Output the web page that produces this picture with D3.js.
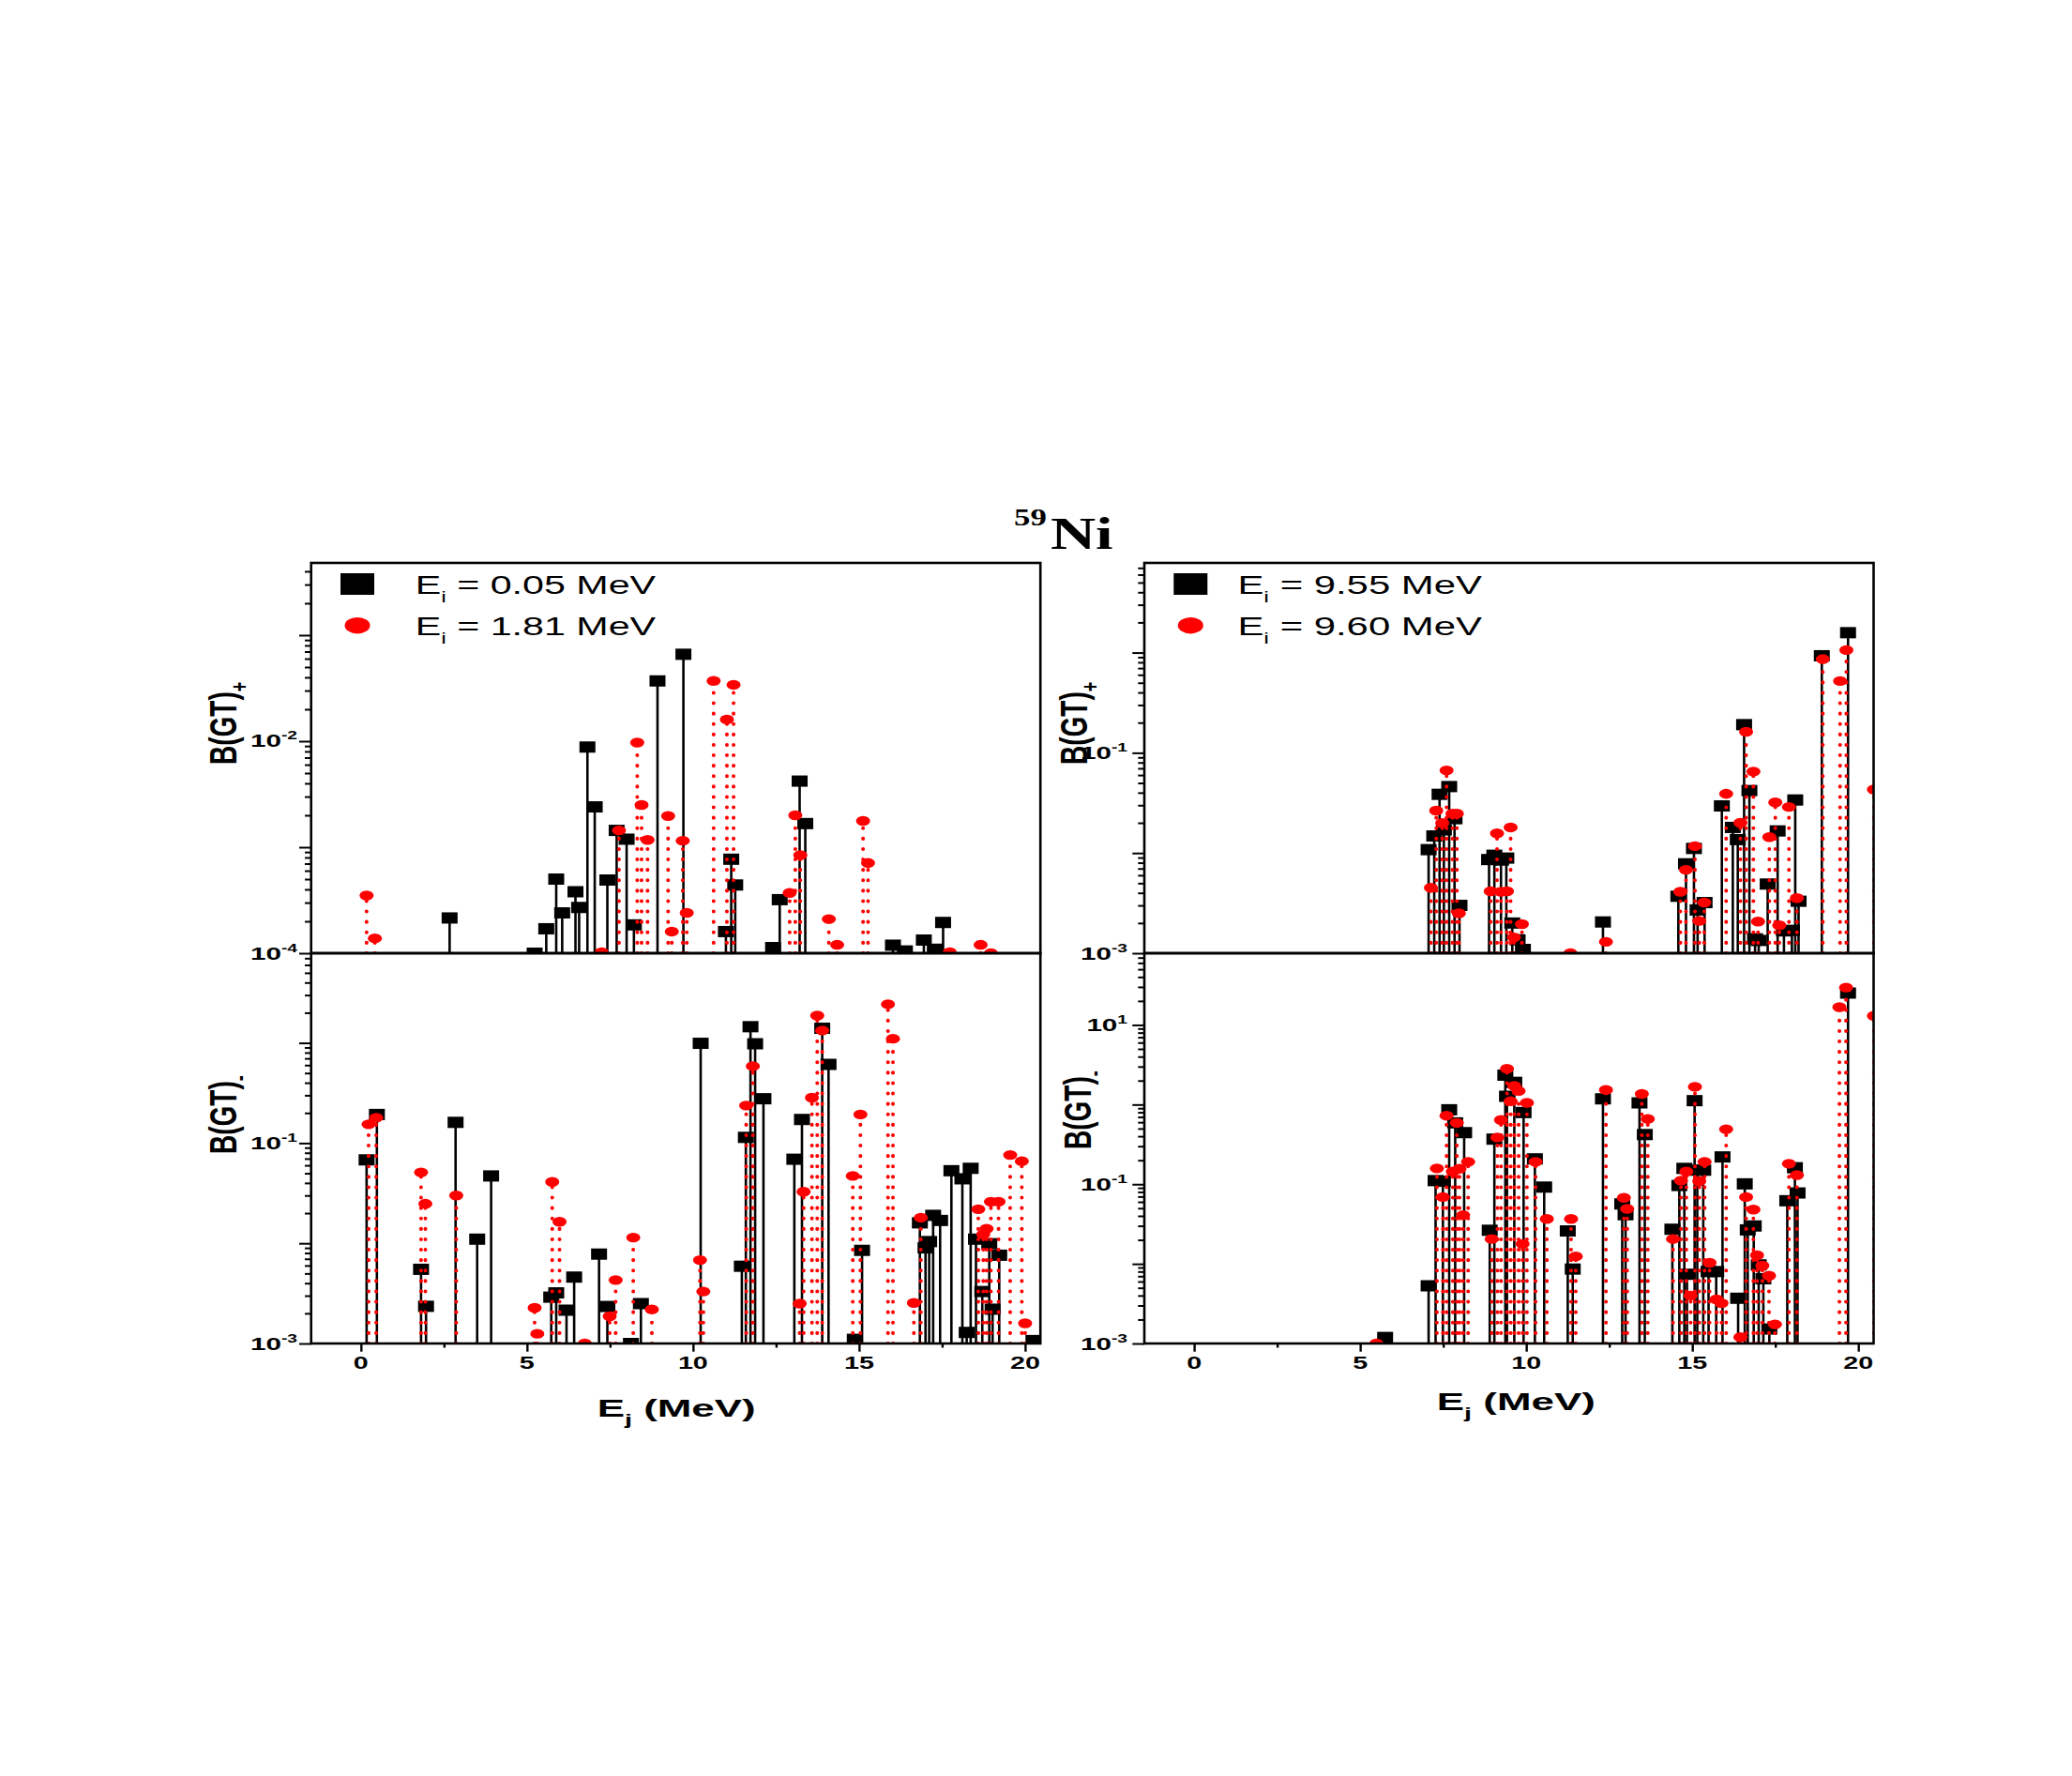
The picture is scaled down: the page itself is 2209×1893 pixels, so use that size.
<!DOCTYPE html>
<html>
<head>
<meta charset="utf-8">
<script src="https://cdn.jsdelivr.net/npm/d3@7"></script>
<style>
  body { margin: 0; background: #fff; }
  svg { display: block; }
</style>
</head>
<body>
<div id="chart"></div>
<script>
// ---- data ----
// B(GT)+ , Ei = 0.05 MeV
const lowPlusSqE = [2.67, 5.23, 5.58, 5.88, 6.06, 6.46, 6.57, 6.82, 7.04, 7.42, 7.70, 8.00, 8.22, 8.93, 9.71, 10.99, 11.15, 11.27, 12.41, 12.61, 13.21, 13.38, 16.02, 16.38, 16.95, 17.28, 17.53];
const lowPlusSqB = [2.15e-4, 1.0e-4, 1.7e-4, 5.0e-4, 2.4e-4, 3.8e-4, 2.7e-4, 8.8e-3, 2.4e-3, 4.9e-4, 1.44e-3, 1.19e-3, 1.85e-4, 3.7e-2, 6.6e-2, 1.6e-4, 7.7e-4, 4.4e-4, 1.13e-4, 3.2e-4, 4.2e-3, 1.67e-3, 1.19e-4, 1.05e-4, 1.33e-4, 1.09e-4, 1.95e-4];
// B(GT)+ , Ei = 1.81 MeV
const lowPlusCiE = [0.17, 0.42, 7.25, 7.77, 8.32, 8.45, 8.63, 9.25, 9.36, 9.69, 9.81, 10.62, 11.02, 11.22, 12.91, 13.08, 13.23, 14.09, 14.34, 15.12, 15.27, 17.73, 18.66, 18.97];
const lowPlusCiB = [3.5e-4, 1.38e-4, 1.02e-4, 1.44e-3, 9.7e-3, 2.5e-3, 1.17e-3, 1.97e-3, 1.6e-4, 1.15e-3, 2.4e-4, 3.7e-2, 1.6e-2, 3.4e-2, 3.7e-4, 2.0e-3, 8.4e-4, 2.1e-4, 1.2e-4, 1.77e-3, 7.1e-4, 1.02e-4, 1.2e-4, 1.0e-4];
// B(GT)- , Ei = 0.05 MeV
const lowMinusSqE = [0.17, 0.48, 1.81, 1.96, 2.85, 3.50, 3.92, 5.73, 5.88, 6.19, 6.42, 7.17, 7.42, 8.13, 8.43, 10.23, 11.47, 11.59, 11.73, 11.87, 12.12, 13.05, 13.28, 13.89, 14.08, 14.87, 15.09, 16.83, 17.00, 17.11, 17.23, 17.44, 17.78, 18.11, 18.24, 18.36, 18.52, 18.71, 18.92, 19.02, 19.22, 20.25];
const lowMinusSqB = [0.068, 0.193, 5.5e-3, 2.35e-3, 0.161, 0.011, 0.047, 2.9e-3, 3.2e-3, 2.15e-3, 4.6e-3, 7.8e-3, 2.34e-3, 1.0e-3, 2.5e-3, 0.99, 5.9e-3, 0.114, 1.45, 0.98, 0.277, 0.069, 0.172, 1.4, 0.61, 1.1e-3, 8.5e-3, 0.016, 9.0e-3, 0.0104, 0.019, 0.0169, 0.053, 0.044, 1.29e-3, 0.056, 0.011, 3.3e-3, 9.9e-3, 2.2e-3, 7.6e-3, 1.07e-3];
// B(GT)- , Ei = 1.81 MeV
const lowMinusCiE = [0.23, 0.46, 1.81, 1.94, 2.87, 5.23, 5.31, 5.76, 5.98, 6.74, 7.49, 7.67, 8.20, 8.76, 10.21, 10.31, 11.60, 11.80, 13.21, 13.33, 13.58, 13.74, 13.89, 14.81, 15.04, 15.87, 16.02, 16.65, 16.86, 18.59, 18.74, 18.84, 18.97, 19.20, 19.55, 19.90, 20.0];
const lowMinusCiB = [0.154, 0.179, 0.051, 0.0248, 0.030, 2.27e-3, 1.25e-3, 0.041, 0.0164, 1.0e-3, 1.87e-3, 4.3e-3, 0.0114, 2.19e-3, 6.8e-3, 3.3e-3, 0.237, 0.585, 2.5e-3, 0.0327, 0.284, 1.87, 1.33, 0.047, 0.193, 2.43, 1.10, 2.54e-3, 0.018, 0.0219, 0.0123, 0.014, 0.026, 0.026, 0.076, 0.066, 1.59e-3];
// B(GT)+ , Ei = 9.55 MeV
const highPlusSqE = [7.06, 7.23, 7.39, 7.52, 7.68, 7.84, 7.99, 8.88, 9.04, 9.24, 9.40, 9.58, 9.74, 9.90, 12.31, 14.58, 14.81, 15.05, 15.16, 15.37, 15.89, 16.22, 16.37, 16.56, 16.72, 16.89, 17.00, 17.27, 17.57, 17.76, 18.00, 18.10, 18.20, 18.90, 19.69];
const highPlusSqB = [0.0108, 0.0148, 0.0385, 0.017, 0.046, 0.022, 3.0e-3, 8.6e-3, 9.5e-3, 8.5e-3, 8.9e-3, 2.0e-3, 1.36e-3, 1.09e-3, 2.05e-3, 3.7e-3, 7.8e-3, 0.0111, 2.7e-3, 3.2e-3, 0.0295, 0.018, 0.0136, 0.191, 0.042, 1.39e-3, 1.34e-3, 4.9e-3, 0.0166, 1.67e-3, 1.69e-3, 0.0338, 3.3e-3, 0.93, 1.58];
// B(GT)+ , Ei = 9.60 MeV
const highPlusCiE = [7.13, 7.29, 7.47, 7.60, 7.78, 7.91, 7.97, 8.93, 9.12, 9.24, 9.42, 9.53, 9.63, 9.87, 11.33, 12.40, 14.64, 14.81, 15.08, 15.21, 15.36, 16.02, 16.45, 16.62, 16.84, 16.98, 17.32, 17.50, 17.62, 17.91, 18.15, 18.93, 19.45, 19.64, 20.47];
const highPlusCiB = [4.5e-3, 0.0265, 0.0199, 0.0668, 0.0247, 0.0247, 2.5e-3, 4.15e-3, 0.0157, 4.1e-3, 4.15e-3, 0.018, 1.44e-3, 1.95e-3, 1.0e-3, 1.3e-3, 4.1e-3, 6.8e-3, 0.0117, 2.1e-3, 3.2e-3, 0.039, 0.020, 0.162, 0.065, 2.07e-3, 0.0144, 0.032, 1.9e-3, 0.0288, 3.55e-3, 0.86, 0.52, 1.06, 0.043];
// B(GT)- , Ei = 9.55 MeV
const highMinusSqE = [5.75, 7.06, 7.27, 7.49, 7.68, 7.86, 8.13, 8.90, 9.04, 9.37, 9.42, 9.64, 9.92, 10.26, 10.54, 11.25, 11.40, 12.31, 12.89, 12.99, 13.41, 13.57, 14.40, 14.61, 14.76, 14.84, 15.07, 15.15, 15.33, 15.49, 15.72, 15.91, 16.38, 16.58, 16.67, 16.85, 17.00, 17.14, 17.32, 17.86, 18.09, 18.17, 19.69];
const highMinusSqB = [1.19e-3, 5.3e-3, 0.111, 0.109, 0.86, 0.589, 0.444, 0.0264, 0.368, 2.34, 1.27, 1.9, 0.794, 0.208, 0.092, 0.0259, 8.6e-3, 1.18, 0.0565, 0.0414, 1.05, 0.42, 0.0272, 0.0964, 0.158, 7.4e-3, 1.12, 0.15, 0.15, 8.0e-3, 8.0e-3, 0.22, 3.7e-3, 0.101, 0.0267, 0.0299, 9.7e-3, 6.5e-3, 1.52e-3, 0.062, 0.161, 0.0776, 25.1];
// B(GT)- , Ei = 9.60 MeV
const highMinusCiE = [5.49, 7.31, 7.49, 7.60, 7.79, 7.91, 7.99, 8.10, 8.25, 8.96, 9.13, 9.24, 9.42, 9.53, 9.64, 9.77, 9.89, 10.02, 10.28, 10.62, 11.35, 11.49, 12.40, 12.94, 13.04, 13.48, 13.66, 14.42, 14.66, 14.82, 14.95, 15.08, 15.21, 15.37, 15.52, 15.73, 15.88, 16.02, 16.45, 16.62, 16.84, 16.95, 17.11, 17.31, 17.49, 17.91, 18.15, 19.43, 19.63, 20.47];
const highMinusCiB = [1.0e-3, 0.158, 0.069, 0.725, 0.144, 0.589, 0.156, 0.041, 0.191, 0.0205, 0.386, 0.64, 2.82, 1.1, 1.71, 1.48, 0.0178, 1.05, 0.191, 0.0366, 0.0366, 0.0124, 1.53, 0.0675, 0.049, 1.36, 0.66, 0.0205, 0.111, 0.144, 4.0e-3, 1.67, 0.109, 0.191, 0.0103, 3.58e-3, 3.2e-3, 0.49, 1.2e-3, 0.069, 0.048, 0.0128, 9.5e-3, 7.1e-3, 1.74e-3, 0.181, 0.13, 16.7, 29.4, 13.0];

// legends and ticks
const legendLow = ['0.05', '1.81'];
const legendHigh = ['9.55', '9.60'];
const xMajorTicks = [0, 5, 10, 15, 20];
const xMinorTicks = [2.5, 7.5, 12.5, 17.5];

const SANS = "'Liberation Sans', Arial, sans-serif";
const SERIF = "'Liberation Serif', 'Times New Roman', serif";
const RED = '#ff0000';

const svg = d3.select('#chart').append('svg')
    .attr('width', 2209).attr('height', 1893);
svg.append('rect').attr('width', 2209).attr('height', 1893).attr('fill', '#fff');

const X_DOMAIN = [-1.5, 20.46];
const PW = 777.5, PH = 416;

// stretch a text horizontally so it fills a given width
function fitText(t, x, y, width) {
    const w = t.node().getBBox().width;
    t.attr('transform', `translate(${x},${y}) scale(${width / w},1)`);
}

function logTicks(domain) {
    const major = [], minor = [];
    const k0 = Math.floor(Math.log10(domain[0])), k1 = Math.ceil(Math.log10(domain[1]));
    for (let k = k0; k <= k1; k++) {
        for (let m = 1; m <= 9; m++) {
            const v = m * Math.pow(10, k);
            if (v < domain[0] * 0.999 || v > domain[1]) continue;
            (m === 1 ? major : minor).push(v);
        }
    }
    return { major, minor };
}

const panels = [
    { id: 'tl', x: 331.7, y: 600, yDomain: [1e-4, 0.48], yLabels: [-4, -2], sign: '+',
      sq: [lowPlusSqE, lowPlusSqB], ci: [lowPlusCiE, lowPlusCiB],
      legend: legendLow, legX: 111, legW: 257, labX: -79.7, labY: 215, tickEnd: -14.7, xAxis: false },
    { id: 'bl', x: 331.7, y: 1016, yDomain: [1e-3, 7.85], yLabels: [-3, -1], sign: '-',
      sq: [lowMinusSqE, lowMinusSqB], ci: [lowMinusCiE, lowMinusCiB],
      legend: null, labX: -79.7, labY: 214, tickEnd: -14.7, xAxis: true, xLabX: 305, xLabY: 494 },
    { id: 'tr', x: 1220, y: 600, yDomain: [1e-3, 7.85], yLabels: [-3, -1], sign: '+',
      sq: [highPlusSqE, highPlusSqB], ci: [highPlusCiE, highPlusCiB],
      legend: legendHigh, legX: 99.4, legW: 261, labX: -61, labY: 215, tickEnd: -18, xAxis: false },
    { id: 'br', x: 1220, y: 1016, yDomain: [1e-3, 79.5], yLabels: [-3, -1, 1], sign: '-',
      sq: [highMinusSqE, highMinusSqB], ci: [highMinusCiE, highMinusCiB],
      legend: null, labX: -57, labY: 209, tickEnd: -18, xAxis: true, xLabX: 311.8, xLabY: 487 }
];

function drawPanel(p) {
    const g = svg.append('g').attr('transform', `translate(${p.x},${p.y})`);
    const x = d3.scaleLinear().domain(X_DOMAIN).range([0, PW]);
    const y = d3.scaleLog().domain(p.yDomain).range([PH, 0]);

    const clipId = 'clip-' + p.id;
    g.append('clipPath').attr('id', clipId)
        .append('rect').attr('width', PW).attr('height', PH);
    const plot = g.append('g').attr('clip-path', `url(#${clipId})`);

    // black drop lines + squares
    const sq = d3.zip(p.sq[0], p.sq[1]);
    plot.append('g').selectAll('line').data(sq).join('line')
        .attr('x1', d => x(d[0])).attr('x2', d => x(d[0]))
        .attr('y1', PH).attr('y2', d => y(d[1]))
        .attr('stroke', '#000').attr('stroke-width', 2.6);
    plot.append('g').selectAll('rect').data(sq).join('rect')
        .attr('x', d => x(d[0]) - 8.5).attr('y', d => y(d[1]) - 6)
        .attr('width', 17).attr('height', 12).attr('fill', '#000');

    // red dotted drop lines + ellipses
    const ci = d3.zip(p.ci[0], p.ci[1]);
    plot.append('g').selectAll('line').data(ci).join('line')
        .attr('x1', d => x(d[0])).attr('x2', d => x(d[0]))
        .attr('y1', PH).attr('y2', d => y(d[1]))
        .attr('stroke', RED).attr('stroke-width', 4)
        .attr('stroke-linecap', 'round').attr('stroke-dasharray', '0.1 11');
    plot.append('g').selectAll('ellipse').data(ci).join('ellipse')
        .attr('cx', d => x(d[0])).attr('cy', d => y(d[1]))
        .attr('rx', 7.5).attr('ry', 5.2).attr('fill', RED);

    // frame
    g.append('rect').attr('width', PW).attr('height', PH)
        .attr('fill', 'none').attr('stroke', '#000').attr('stroke-width', 2.6);

    // y ticks (outside)
    const t = logTicks(p.yDomain);
    const yMaj = g.append('g').call(d3.axisLeft(y).tickValues(t.major).tickSize(12.7).tickFormat(''));
    const yMin = g.append('g').call(d3.axisLeft(y).tickValues(t.minor).tickSize(6.7).tickFormat(''));
    [yMaj, yMin].forEach(a => {
        a.select('.domain').remove();
        a.selectAll('line').attr('stroke-width', 2);
    });

    // y tick labels 10^n
    p.yLabels.forEach(e => {
        const lab = g.append('text')
            .attr('transform', `translate(${p.tickEnd},${y(Math.pow(10, e)) + 6.5}) scale(1.6,1)`)
            .attr('text-anchor', 'end')
            .style('font-family', SANS).style('font-weight', 'bold').style('font-size', '18.5px');
        lab.append('tspan').text('10');
        lab.append('tspan').text(e < 0 ? '-' + (-e) : String(e))
            .attr('dy', -8).style('font-size', '12px');
    });

    // y axis title
    const yt = g.append('text')
        .attr('transform', `translate(${p.labX},${p.labY}) scale(1.45,1) rotate(-90)`)
        .style('font-family', SANS).style('font-weight', 'bold').style('font-size', '28px');
    yt.append('tspan').text('B(GT)');
    yt.append('tspan').text(p.sign).attr('dy', 8).style('font-size', '18px');

    if (p.xAxis) {
        const xMaj = g.append('g').attr('transform', `translate(0,${PH})`)
            .call(d3.axisBottom(x).tickValues(xMajorTicks).tickSize(8.7).tickFormat(''));
        const xMin = g.append('g').attr('transform', `translate(0,${PH})`)
            .call(d3.axisBottom(x).tickValues(xMinorTicks).tickSize(4.5).tickFormat(''));
        [xMaj, xMin].forEach(a => {
            a.select('.domain').remove();
            a.selectAll('line').attr('stroke-width', 2.4);
        });
        xMajorTicks.forEach(v => {
            g.append('text')
                .attr('transform', `translate(${x(v)},${PH + 27}) scale(1.55,1)`)
                .attr('text-anchor', 'middle')
                .style('font-family', SANS).style('font-weight', 'bold').style('font-size', '18.5px')
                .text(v);
        });
        const xt = g.append('text')
            .style('font-family', SANS).style('font-weight', 'bold').style('font-size', '26px');
        xt.append('tspan').text('E');
        xt.append('tspan').text('j').attr('dy', 9).style('font-size', '17px');
        xt.append('tspan').text(' (MeV)').attr('dy', -9);
        fitText(xt, p.xLabX, p.xLabY, 169);
    }

    if (p.legend) {
        g.append('rect').attr('x', 49.3 - 18).attr('y', 22.5 - 11.5)
            .attr('width', 36).attr('height', 23).attr('fill', '#000');
        g.append('ellipse').attr('cx', 49.3).attr('cy', 66.7)
            .attr('rx', 13.5).attr('ry', 8.7).attr('fill', RED);
        p.legend.forEach((val, i) => {
            const lt = g.append('text')
                .style('font-family', SANS).style('font-size', '28px');
            lt.append('tspan').text('E');
            lt.append('tspan').text('i').attr('dy', 9).style('font-size', '17px');
            lt.append('tspan').text(` = ${val} MeV`).attr('dy', -9);
            fitText(lt, p.legX, 33 + i * 44, p.legW);
        });
    }
}

panels.forEach(drawPanel);

// title  59Ni
const title = svg.append('text')
    .style('font-family', SERIF).style('font-weight', 'bold');
title.append('tspan').text('59').style('font-size', '25px').attr('dy', -25);
title.append('tspan').text('Ni').style('font-size', '48px').attr('dy', 25).attr('dx', 3);
fitText(title, 1081, 585, 105.7);
</script>
</body>
</html>
